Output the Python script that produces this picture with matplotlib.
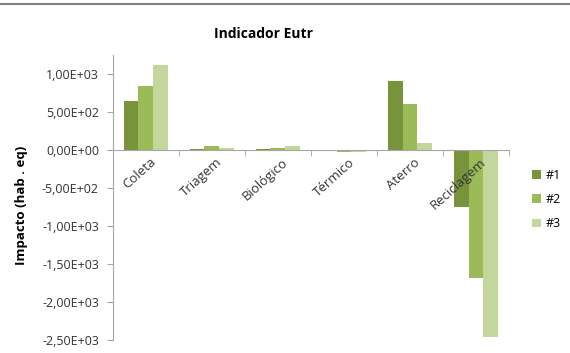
import matplotlib.pyplot as plt
import matplotlib.ticker as mticker
import numpy as np

plt.rcParams['font.family'] = ['Open Sans', 'DejaVu Sans']

categorias = ['Coleta', 'Triagem', 'Biológico', 'Térmico', 'Aterro', 'Reciclagem']
serie1 = [650, 20, 10, -10, 910, -750]
serie2 = [840, 50, 30, -20, 605, -1680]
serie3 = [1120, 30, 50, -30, 90, -2460]
series = [('#1', serie1), ('#2', serie2), ('#3', serie3)]
cores = ['#77933C', '#9BBB59', '#C3D69B']

fig = plt.figure(figsize=(5.7, 3.53), dpi=100)
ax = fig.add_axes([0.198, 0.037, 0.695, 0.807])

x = np.arange(len(categorias))
larg = 0.225
for i, (nome, vals) in enumerate(series):
    ax.bar(x + (i - 1) * larg, vals, width=larg, color=cores[i], label=nome)

ax.set_xlim(-0.5, len(categorias) - 0.5)
ax.set_ylim(-2500, 1250)
ax.set_yticks(np.arange(-2500, 1001, 500))

def fmt(v, pos):
    return f"{v:.2E}".replace('.', ',')
ax.yaxis.set_major_formatter(mticker.FuncFormatter(fmt))

ax.spines['top'].set_visible(False)
ax.spines['right'].set_visible(False)
ax.spines['bottom'].set_position(('data', 0))
for s in ['left', 'bottom']:
    ax.spines[s].set_color('#a6a6a6')

ax.set_xticks(x)
ax.set_xticklabels([])
ax.tick_params(axis='x', which='major', length=0)
ax.set_xticks(np.arange(-0.5, len(categorias)), minor=True)
ax.tick_params(axis='x', which='minor', length=4, color='#a6a6a6', direction='out')
ax.tick_params(axis='y', length=4, pad=6, color='#a6a6a6', labelsize=9, labelcolor='#333333')

for xi, nome in zip(x, categorias):
    ax.annotate(nome, xy=(xi, 0), xycoords='data', xytext=(3, -4), textcoords='offset points',
                rotation=42, ha='right', va='top', rotation_mode='anchor',
                fontsize=9.5, color='#333333')

ax.set_ylabel('Impacto (hab . eq)', fontsize=9.5, fontweight='bold')
ax.yaxis.set_label_coords(-0.215, 0.474)
fig.text(0.462, 0.905, 'Indicador Eutr', ha='center', va='center', fontsize=10, fontweight='bold')

ax.legend(loc='upper left', bbox_to_anchor=(1.03, 0.64), frameon=False, fontsize=9,
          handlelength=0.7, handleheight=0.7, labelspacing=0.9, handletextpad=0.4)

fig.add_artist(plt.Line2D([0, 1], [0.988, 0.988], color='#7f7f7f', lw=1.5))

fig.savefig('out.png', dpi=100)
